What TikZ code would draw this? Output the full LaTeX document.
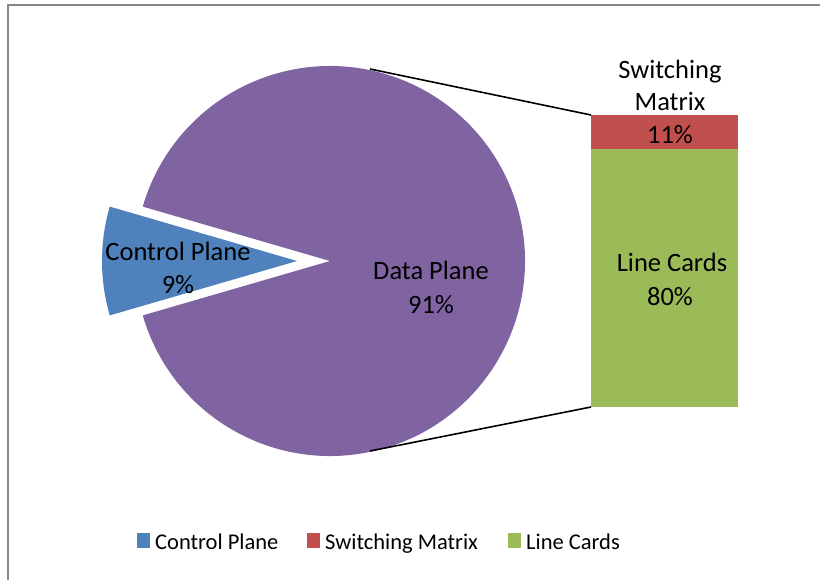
\documentclass[tikz,border=0pt]{standalone}
\usepackage{fontspec}
\setmainfont{Carlito}
\definecolor{cpblue}{HTML}{4F81BD}
\definecolor{smred}{HTML}{C0504D}
\definecolor{lcgreen}{HTML}{9BBB59}
\definecolor{dppurple}{HTML}{8064A2}
\definecolor{frame}{HTML}{868686}
\begin{document}
\begin{tikzpicture}[x=1pt,y=-1pt,
  lbl/.style={inner sep=0pt,anchor=base,font=\fontsize{26.5}{30}\selectfont},
  leg/.style={inner sep=0pt,anchor=base west,font=\fontsize{22.5}{26}\selectfont},
  legbox/.style={inner sep=0pt,minimum width=13pt,minimum height=15pt,anchor=north west},
  link/.style={line width=1.6pt,black}]
\useasboundingbox (0,0) rectangle (820,579);
\begin{scope}
\clip (0,0) rectangle (820,579);
\draw[frame,line width=2pt] (8,5) rectangle (840,600);
\end{scope}
% pie
\fill[dppurple] (330,261) -- ++(163.8:195) arc[start angle=163.8,end angle=-163.8,radius=195] -- cycle;
\fill[cpblue] (297,261) -- ++(163.8:195) arc[start angle=163.8,end angle=196.2,radius=195] -- cycle;
% bar
\fill[smred] (591,115) rectangle (738,149);
\fill[lcgreen] (591,149) rectangle (738,407);
\coordinate (pt) at (370,69);
\coordinate (pb) at (370,451);
\coordinate (bt) at (591,115);
\coordinate (bb) at (591,407);
\draw[link] (pt) -- (bt);
\draw[link] (pb) -- (bb);
% labels
\node[lbl] (cp1) at (178,260) {Control Plane};
\node[lbl] (cp2) at (178,293) {9\%};
\node[lbl] (dp1) at (431,279) {Data Plane};
\node[lbl] (dp2) at (431,313) {91\%};
\node[lbl] (lc1) at (672,271) {Line Cards};
\node[lbl] (lc2) at (670,305) {80\%};
\node[lbl] (sm1) at (670,78) {Switching};
\node[lbl] (sm2) at (670,110) {Matrix};
\node[lbl] (sm3) at (670,143) {11\%};
% legend
\node[legbox,fill=cpblue] (k1) at (137,533) {};
\node[leg] (t1) at (155,549) {Control Plane};
\node[legbox,fill=smred] (k2) at (307,533) {};
\node[leg] (t2) at (325,549) {Switching Matrix};
\node[legbox,fill=lcgreen] (k3) at (508,533) {};
\node[leg] (t3) at (526,549) {Line Cards};
\end{tikzpicture}
\end{document}
